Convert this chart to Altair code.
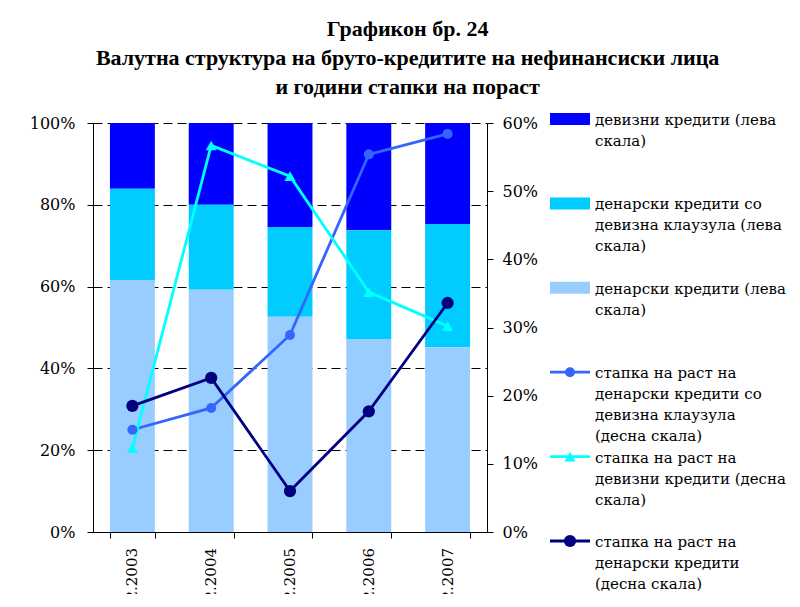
import altair as alt
import pandas as pd

FONT = "DejaVu Serif"
TFONT = "Liberation Serif"

dates = ["31.12.2003", "31.12.2004", "31.12.2005", "31.12.2006", "31.12.2007"]

# shares (left scale, %)
denarski = [61.6, 59.2, 52.6, 47.2, 45.2]
klauzula = [22.3, 20.8, 22.0, 26.6, 30.1]
devizni = [16.1, 20.0, 25.4, 26.2, 24.7]

# growth rates (right scale, %)
g_klauzula = [15.0, 18.2, 28.9, 55.4, 58.4]
g_devizni = [12.3, 56.7, 52.2, 35.2, 30.2]
g_denarski = [18.5, 22.6, 6.0, 17.7, 33.6]

bar_series = ["девизни кредити (лева скала)",
              "денарски кредити со девизна клаузула (лева скала)",
              "денарски кредити (лева скала)"]
line_series = ["стапка на раст на денарски кредити со девизна клаузула (десна скала)",
               "стапка на раст на девизни кредити (десна скала)",
               "стапка на раст на денарски кредити (десна скала)"]
legend_labels = ["девизни кредити (лева\nскала)",
                 "денарски кредити со\nдевизна клаузула (лева\nскала)",
                 "денарски кредити (лева\nскала)",
                 "стапка на раст на\nденарски кредити со\nдевизна клаузула\n(десна скала)",
                 "стапка на раст на\nдевизни кредити (десна\nскала)",
                 "стапка на раст на\nденарски кредити\n(десна скала)"]
all_series = bar_series + line_series
colors = ["#0000FF", "#00CCFF", "#99CCFF", "#3366FF", "#00FFFF", "#000080"]
shapes = ["circle", "triangle-up", "circle"]
marker_sizes = [100, 150, 100]

bar_rows = []
for name, vals, order in zip(bar_series, [devizni, klauzula, denarski], [2, 1, 0]):
    for d, v in zip(dates, vals):
        bar_rows.append({"date": d, "series": name, "value": v, "ord": order})
bars_df = pd.DataFrame(bar_rows)

line_rows = []
for name, vals in zip(line_series, [g_klauzula, g_devizni, g_denarski]):
    for d, v in zip(dates, vals):
        line_rows.append({"date": d, "series": name, "rate": v})
lines_df = pd.DataFrame(line_rows)

color_scale = alt.Scale(domain=all_series, range=colors)
shape_scale = alt.Scale(domain=line_series, range=shapes)
size_scale = alt.Scale(domain=line_series, range=marker_sizes)


def x_scale():
    return alt.Scale(domain=dates, paddingInner=0.43, paddingOuter=0.215)


x_enc = alt.X("date:N", sort=dates, scale=x_scale(),
              axis=alt.Axis(title=None, labels=False, tickBand="extent",
                            tickSize=6, tickColor="black",
                            domainColor="black", grid=False))

bars = alt.Chart(bars_df).mark_bar().encode(
    x=x_enc,
    y=alt.Y("value:Q", stack="zero", scale=alt.Scale(domain=[0, 100], nice=False),
            axis=alt.Axis(title=None, values=[0, 20, 40, 60, 80, 100],
                          labelExpr="datum.value + '%'", grid=True,
                          gridDash=[9, 5], gridColor="black", gridWidth=1,
                          gridOpacity=1, tickSize=6, tickColor="black",
                          domainColor="black", labelFont=FONT, labelFontSize=16,
                          labelColor="black", labelPadding=12)),
    color=alt.Color("series:N", scale=color_scale, legend=None),
    order=alt.Order("ord:Q"),
)

y_right = alt.Y("rate:Q", scale=alt.Scale(domain=[0, 60], nice=False),
                axis=alt.Axis(title=None, orient="right",
                              values=[0, 10, 20, 30, 40, 50, 60],
                              labelExpr="datum.value + '%'", grid=False,
                              tickSize=6, tickColor="black", domainColor="black",
                              labelFont=FONT, labelFontSize=16, labelColor="black",
                              labelPadding=9))

lines = alt.Chart(lines_df).mark_line(strokeWidth=2.8).encode(
    x=alt.X("date:N", sort=dates),
    y=y_right,
    color=alt.Color("series:N", scale=color_scale, legend=None),
    detail="series:N",
)
points = alt.Chart(lines_df).mark_point(filled=True, opacity=1).encode(
    x=alt.X("date:N", sort=dates),
    y=alt.Y("rate:Q"),
    color=alt.Color("series:N", scale=color_scale, legend=None),
    shape=alt.Shape("series:N", scale=shape_scale, legend=None),
    size=alt.Size("series:N", scale=size_scale, legend=None),
)

main = alt.layer(bars, lines + points).resolve_scale(y="independent").properties(
    width=394, height=409)

# x-axis category labels, rotated and cut at the bottom edge like the original
strip = alt.Chart(pd.DataFrame({"date": dates})).mark_text(
    angle=270, align="right", baseline="middle", clip=True,
    font=FONT, fontSize=15, color="black").encode(
    x=alt.X("date:N", sort=dates, scale=x_scale(), axis=None),
    y=alt.value(0),
    text="date:N",
).properties(width=394, height=46)

left = alt.vconcat(main, strip, spacing=8)

# ---- manual legend ----
leg_df = pd.DataFrame({
    "series": all_series,
    "label": legend_labels,
    "kind": ["bar"] * 3 + ["line"] * 3,
    "idx": list(range(6)),
})
leg_y = alt.Y("idx:Q", scale=alt.Scale(domain=[0, 5], range=[-4, 418], nice=False,
                                       zero=False), axis=None)
leg_color = alt.Color("series:N", scale=color_scale, legend=None)

leg_rect = alt.Chart(leg_df).transform_filter("datum.kind == 'bar'").mark_point(
    shape="M-1,-0.3H1V0.3H-1Z", filled=True, size=1600, opacity=1).encode(
    x=alt.value(20), y=leg_y, color=leg_color)
leg_line = alt.Chart(leg_df).transform_filter("datum.kind == 'line'").mark_point(
    shape="M-1,0H1", filled=False, size=1600, strokeWidth=2.8, opacity=1).encode(
    x=alt.value(20), y=leg_y, color=leg_color)
leg_mark = alt.Chart(leg_df).transform_filter("datum.kind == 'line'").mark_point(
    filled=True, opacity=1).encode(
    x=alt.value(20), y=leg_y, color=leg_color,
    shape=alt.Shape("series:N", scale=shape_scale, legend=None),
    size=alt.Size("series:N", scale=size_scale, legend=None))
leg_text = alt.Chart(leg_df).mark_text(
    align="left", baseline="alphabetic", dy=6, lineBreak="\n",
    font=FONT, fontSize=15, lineHeight=21, color="black").encode(
    x=alt.value(45), y=leg_y, text="label:N")

legend = alt.layer(leg_rect, leg_line, leg_mark, leg_text).properties(
    width=222, height=409)

chart = alt.hconcat(left, legend, spacing=6).properties(
    title=alt.Title(["Графикон бр. 24",
                     "Валутна структура на бруто-кредитите на нефинансиски лица",
                     "и години стапки на пораст"],
                    font=TFONT, fontSize=22, fontWeight="bold", color="black",
                    lineHeight=29, anchor="middle", offset=14),
    padding={"left": 21, "top": 10, "right": 0, "bottom": 0},
).configure_view(stroke=None)

chart.save("out.html", embed_options={"renderer": "svg", "actions": False})
